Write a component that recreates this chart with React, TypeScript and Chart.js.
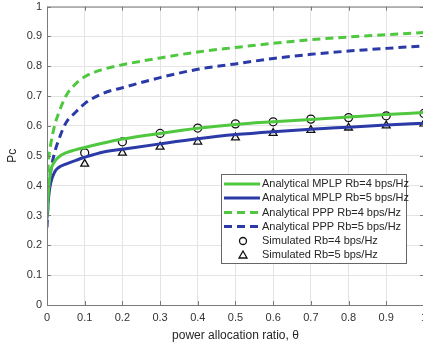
import React, { useEffect, useRef } from "react";
import { Chart, registerables } from "chart.js";

Chart.register(...registerables);

const thetaCurve = [0, 0.005, 0.01, 0.02, 0.03, 0.05, 0.075, 0.1, 0.15, 0.2, 0.3, 0.4, 0.5, 0.6, 0.7, 0.8, 0.9, 1.0];
const mplpRb4 = [0.30, 0.40, 0.45, 0.48, 0.495, 0.51, 0.52, 0.528, 0.543, 0.556, 0.575, 0.592, 0.605, 0.614, 0.622, 0.630, 0.638, 0.645];
const mplpRb5 = [0.29, 0.37, 0.41, 0.445, 0.46, 0.472, 0.484, 0.495, 0.513, 0.522, 0.540, 0.557, 0.571, 0.581, 0.589, 0.596, 0.603, 0.609];
const pppRb4 = [0.40, 0.50, 0.54, 0.60, 0.64, 0.70, 0.74, 0.765, 0.79, 0.805, 0.828, 0.848, 0.863, 0.877, 0.889, 0.898, 0.906, 0.913];
const pppRb5 = [0.26, 0.40, 0.45, 0.51, 0.55, 0.61, 0.645, 0.675, 0.71, 0.728, 0.762, 0.790, 0.808, 0.826, 0.840, 0.851, 0.860, 0.868];

const thetaSim = [0.1, 0.2, 0.3, 0.4, 0.5, 0.6, 0.7, 0.8, 0.9, 1.0];
const simRb4 = [0.51, 0.547, 0.575, 0.593, 0.607, 0.614, 0.623, 0.628, 0.634, 0.642];
const simRb5 = [0.473, 0.51, 0.53, 0.547, 0.561, 0.576, 0.586, 0.594, 0.601, 0.607];

const xTicks = [0, 0.1, 0.2, 0.3, 0.4, 0.5, 0.6, 0.7, 0.8, 0.9, 1];
const yTicks = [0, 0.1, 0.2, 0.3, 0.4, 0.5, 0.6, 0.7, 0.8, 0.9, 1];

const legendLabels = [
  "Analytical MPLP Rb=4 bps/Hz",
  "Analytical MPLP Rb=5 bps/Hz",
  "Analytical PPP Rb=4 bps/Hz",
  "Analytical PPP Rb=5 bps/Hz",
  "Simulated Rb=4 bps/Hz",
  "Simulated Rb=5 bps/Hz",
];

const GREEN = "#4fc83f";
const BLUE = "#2b3aa6";
const FONT = "Liberation Sans, Arial, sans-serif";
const SHIFT = 5;

function pts(xs: number[], ys: number[]) {
  return xs.map((x, i) => ({ x, y: ys[i] }));
}

const frame = {
  id: "frame",
  afterDatasetsDraw(chart: any) {
    const { ctx, chartArea: a, scales } = chart;
    ctx.save();
    ctx.strokeStyle = "#7a7a7a";
    ctx.lineWidth = 1;
    ctx.strokeRect(a.left + 0.5, a.top + 0.5, a.right - a.left, a.bottom - a.top);
    const tl = 4;
    ctx.beginPath();
    for (const v of xTicks) {
      const px = Math.round(scales.x.getPixelForValue(v)) + 0.5;
      ctx.moveTo(px, a.bottom);
      ctx.lineTo(px, a.bottom - tl);
      ctx.moveTo(px, a.top);
      ctx.lineTo(px, a.top + tl);
    }
    for (const v of yTicks) {
      const py = Math.round(scales.y.getPixelForValue(v)) + 0.5;
      ctx.moveTo(a.left, py);
      ctx.lineTo(a.left + tl, py);
      ctx.moveTo(a.right, py);
      ctx.lineTo(a.right - tl, py);
    }
    ctx.stroke();

    // legend (page coords shifted by SHIFT since canvas starts above the page)
    const bx = 221, by = 174 + SHIFT, bw = 185, bh = 89;
    ctx.fillStyle = "#ffffff";
    ctx.fillRect(bx, by, bw, bh);
    ctx.strokeStyle = "#666666";
    ctx.strokeRect(bx + 0.5, by + 0.5, bw, bh);
    const rows = [184, 198, 212.5, 226.5, 241, 255];
    ctx.font = "11px " + FONT;
    ctx.textBaseline = "middle";
    chart.data.datasets.forEach((ds: any, i: number) => {
      const y = rows[i] + SHIFT;
      if (i < 4) {
        ctx.beginPath();
        ctx.strokeStyle = ds.borderColor;
        ctx.lineWidth = 3;
        ctx.setLineDash(ds.borderDash || []);
        ctx.moveTo(224, y);
        ctx.lineTo(260, y);
        ctx.stroke();
        ctx.setLineDash([]);
      } else {
        ctx.strokeStyle = "#111";
        ctx.lineWidth = 1.3;
        ctx.beginPath();
        if (i === 4) {
          ctx.arc(243, y, 3.5, 0, Math.PI * 2);
        } else {
          ctx.moveTo(243, y - 4);
          ctx.lineTo(247, y + 3);
          ctx.lineTo(239, y + 3);
          ctx.closePath();
        }
        ctx.stroke();
      }
      ctx.fillStyle = "#262626";
      ctx.fillText(legendLabels[i], 262, y);
    });
    ctx.restore();
  },
};

export default function App() {
  const ref = useRef<HTMLCanvasElement>(null);
  useEffect(() => {
    if (!ref.current) return;
    const chart = new Chart(ref.current, {
      type: "line",
      data: {
        datasets: [
          { label: legendLabels[0], data: pts(thetaCurve, mplpRb4), borderColor: GREEN, borderWidth: 3, pointRadius: 0, cubicInterpolationMode: "monotone", fill: false },
          { label: legendLabels[1], data: pts(thetaCurve, mplpRb5), borderColor: BLUE, borderWidth: 3, pointRadius: 0, cubicInterpolationMode: "monotone", fill: false },
          { label: legendLabels[2], data: pts(thetaCurve, pppRb4), borderColor: GREEN, borderWidth: 3, borderDash: [8, 5], pointRadius: 0, cubicInterpolationMode: "monotone", fill: false },
          { label: legendLabels[3], data: pts(thetaCurve, pppRb5), borderColor: BLUE, borderWidth: 3, borderDash: [8, 5], pointRadius: 0, cubicInterpolationMode: "monotone", fill: false },
          { label: legendLabels[4], data: pts(thetaSim, simRb4), showLine: false, pointStyle: "circle", pointRadius: 4, borderColor: "#111", backgroundColor: "rgba(0,0,0,0)", pointBorderWidth: 1.3 },
          { label: legendLabels[5], data: pts(thetaSim, simRb5), showLine: false, pointStyle: "triangle", pointRadius: 4.5, borderColor: "#111", backgroundColor: "rgba(0,0,0,0)", pointBorderWidth: 1.3 },
        ] as any,
      },
      options: {
        animation: false,
        responsive: false,
        maintainAspectRatio: false,
        layout: { padding: { top: 0, right: 0, left: 0, bottom: 0 } },
        plugins: { legend: { display: false }, tooltip: { enabled: false } },
        scales: {
          x: {
            type: "linear",
            min: 0,
            max: 1,
            afterFit: (s: any) => { s.height = 42; },
            afterBuildTicks: (s: any) => { s.ticks = xTicks.map((v) => ({ value: v })); },
            ticks: { color: "#333", font: { size: 11, family: FONT }, padding: 6, maxRotation: 0, callback: (v: any) => String(v) },
            grid: { color: "#e4e4e4", drawTicks: false },
            border: { display: false },
            title: { display: true, text: "power allocation ratio, θ", color: "#262626", font: { size: 12, family: FONT }, padding: { top: 2, bottom: 4 } },
          },
          y: {
            type: "linear",
            min: 0,
            max: 1,
            afterFit: (s: any) => { s.width = 47; },
            afterBuildTicks: (s: any) => { s.ticks = yTicks.map((v) => ({ value: v })); },
            ticks: { color: "#333", font: { size: 11, family: FONT }, padding: 5, callback: (v: any) => String(v) },
            grid: { color: "#e4e4e4", drawTicks: false },
            border: { display: false },
            title: { display: true, text: "Pc", color: "#262626", font: { size: 12, family: FONT }, padding: { top: 5, bottom: 2 } },
          },
        },
      },
      plugins: [frame],
    });
    return () => chart.destroy();
  }, []);
  return (
    <div style={{ position: "fixed", left: 0, top: 0, width: 423, height: 347, overflow: "hidden", background: "#fff" }}>
      <canvas ref={ref} width={433} height={352} style={{ display: "block", width: 433, height: 352, marginTop: -SHIFT }} />
    </div>
  );
}
